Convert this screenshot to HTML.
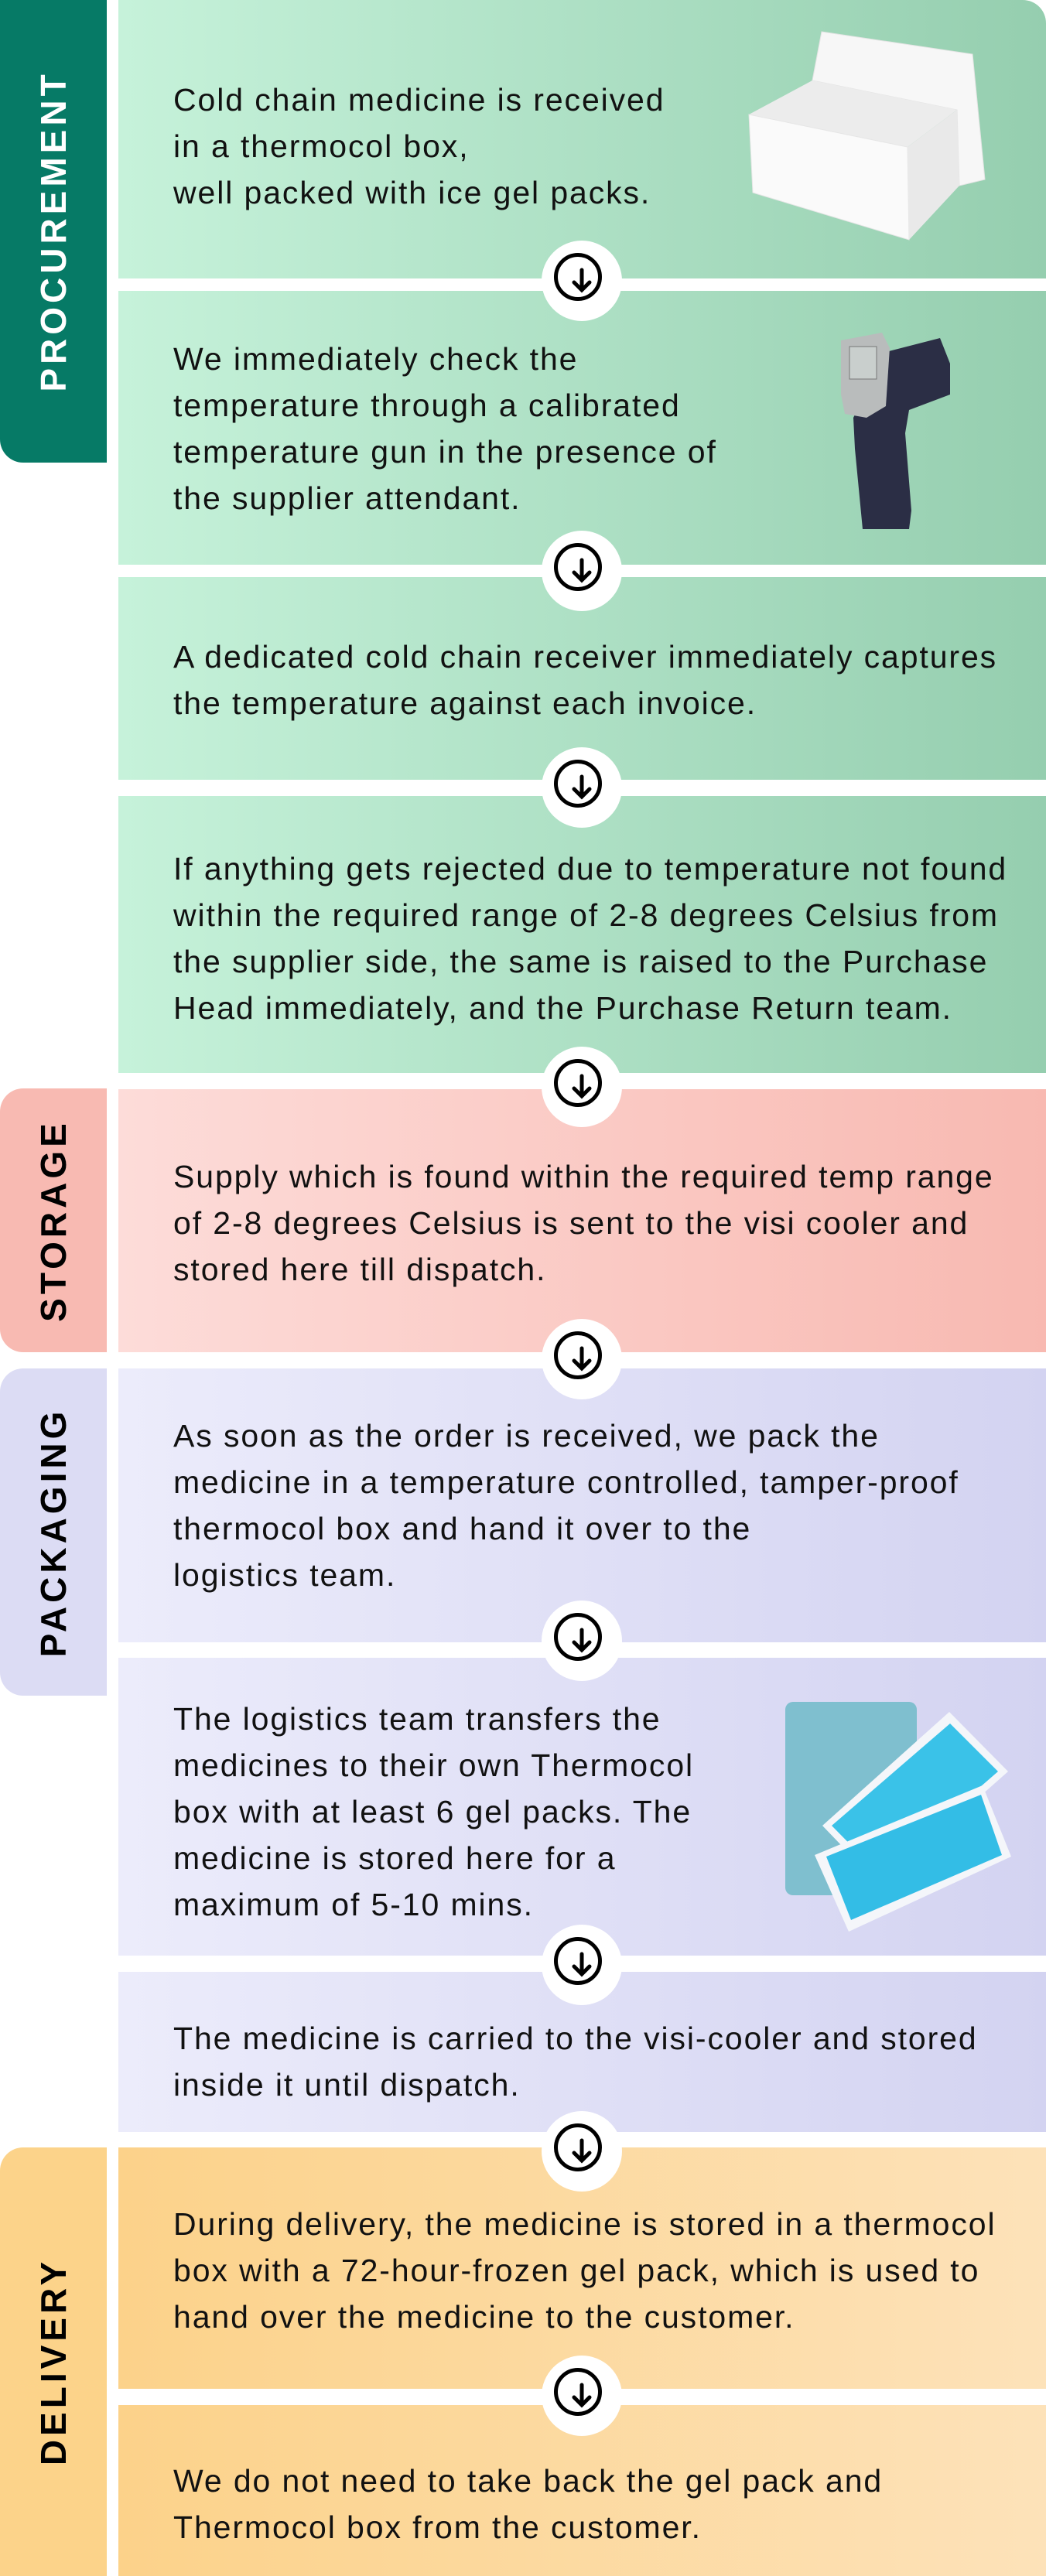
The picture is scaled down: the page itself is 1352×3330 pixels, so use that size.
<!DOCTYPE html>
<html><head><meta charset="utf-8"><style>
*{margin:0;padding:0;box-sizing:border-box}
body{width:1352px;height:3330px;position:relative;background:#fff;font-family:"Liberation Sans",sans-serif;overflow:hidden}
.p{position:absolute;left:153px;right:0}
.g{background:linear-gradient(90deg,#c6f2da,#95ceaf)}
.s{background:linear-gradient(90deg,#fddcd9,#f8b9b1)}
.k{background:linear-gradient(90deg,#ececfb,#d3d3f1)}
.d{background:linear-gradient(90deg,#fcd28a,#fde2b9)}
.l{position:absolute;left:0;width:138px;border-radius:30px 0 0 30px}
.lt{position:absolute;left:69px;top:50%;transform:translate(-50%,-50%) rotate(-90deg);font-weight:bold;font-size:46px;letter-spacing:5px;white-space:nowrap}
.t{position:absolute;left:224px;font-size:41px;letter-spacing:1.9px;line-height:60px;color:#111;white-space:nowrap}
.c{position:absolute;left:700px;width:104px;height:104px;margin-top:-52px;border-radius:50%;background:#fff}
.c::before{content:"";position:absolute;left:21px;top:21px;width:52px;height:52px;border:5px solid #000;border-radius:50%;box-sizing:content-box;margin:-5px}
.c svg{position:absolute;left:32px;top:32px}
</style></head><body>
<div class="p g" style="top:0;height:360px;border-top-right-radius:30px"></div>
<div class="p g" style="top:376px;height:354px"></div>
<div class="p g" style="top:746px;height:262px"></div>
<div class="p g" style="top:1029px;height:358px"></div>
<div class="p s" style="top:1408px;height:340px"></div>
<div class="p k" style="top:1769px;height:354px"></div>
<div class="p k" style="top:2143px;height:385px"></div>
<div class="p k" style="top:2549px;height:207px"></div>
<div class="p d" style="top:2776px;height:312px"></div>
<div class="p d" style="top:3109px;height:221px"></div>

<div class="l" style="top:0;height:598px;background:#067a66;border-top-left-radius:0"><div class="lt" style="color:#fff">PROCUREMENT</div></div>
<div class="l" style="top:1407px;height:341px;background:#f8bab2"><div class="lt">STORAGE</div></div>
<div class="l" style="top:1769px;height:423px;background:#dcdcf4"><div class="lt">PACKAGING</div></div>
<div class="l" style="top:2776px;height:554px;background:#fcd38a;border-bottom-left-radius:0"><div class="lt">DELIVERY</div></div>

<div class="t" style="top:99px">Cold chain medicine is received<br>in a thermocol box,<br>well packed with ice gel packs.</div>
<div class="t" style="top:434px">We immediately check the<br>temperature through a calibrated<br>temperature gun in the presence of<br>the supplier attendant.</div>
<div class="t" style="top:819px">A dedicated cold chain receiver immediately captures<br>the temperature against each invoice.</div>
<div class="t" style="top:1093px">If anything gets rejected due to temperature not found<br>within the required range of 2-8 degrees Celsius from<br>the supplier side, the same is raised to the Purchase<br>Head immediately, and the Purchase Return team.</div>
<div class="t" style="top:1491px">Supply which is found within the required temp range<br>of 2-8 degrees Celsius is sent to the visi cooler and<br>stored here till dispatch.</div>
<div class="t" style="top:1826px">As soon as the order is received, we pack the<br>medicine in a temperature controlled, tamper-proof<br>thermocol box and hand it over to the<br>logistics team.</div>
<div class="t" style="top:2192px">The logistics team transfers the<br>medicines to their own Thermocol<br>box with at least 6 gel packs. The<br>medicine is stored here for a<br>maximum of 5-10 mins.</div>
<div class="t" style="top:2605px">The medicine is carried to the visi-cooler and stored<br>inside it until dispatch.</div>
<div class="t" style="top:2845px">During delivery, the medicine is stored in a thermocol<br>box with a 72-hour-frozen gel pack, which is used to<br>hand over the medicine to the customer.</div>
<div class="t" style="top:3177px">We do not need to take back the gel pack and<br>Thermocol box from the customer.</div>

<svg style="position:absolute;left:0;top:0" width="1352" height="3330">
<polygon points="1062,41 1257,70 1273,232 1240,240 1237,142 1050,104" fill="#f7f7f7" stroke="#e4e4e4"/>
<polygon points="968,148 1050,104 1237,142 1173,190" fill="#ececec"/>
<polygon points="968,148 1173,190 1175,310 973,249" fill="#fafafa" stroke="#e6e6e6"/>
<polygon points="1173,190 1237,142 1240,240 1175,310" fill="#e9e9e9"/>
<path d="M1145,455 L1215,437 L1228,470 L1228,510 L1175,530 L1170,560 L1178,660 L1175,684 L1115,684 L1105,580 L1103,540 Z" fill="#2b2e45"/>
<path d="M1087,440 L1140,430 L1150,450 L1145,525 L1120,540 L1092,535 L1087,510 Z" fill="#b9bcbc"/>
<rect x="1098" y="448" width="35" height="42" fill="#c9cfcd" stroke="#777"/>
<rect x="1015" y="2200" width="170" height="250" rx="10" fill="#7fbfcf"/>
<polygon points="1063,2360 1227,2213 1303,2290 1137,2437" fill="#f4f6fa"/>
<polygon points="1075,2360 1228,2228 1290,2290 1137,2423" fill="#3ac2e8"/>
<polygon points="1053,2398 1270,2308 1307,2400 1097,2497" fill="#f4f6fa"/>
<polygon points="1068,2400 1268,2320 1295,2398 1100,2482" fill="#33bde6"/>
</svg>

<div class="c" style="top:363px"><svg width="40" height="40"><path d="M20 6 V32 M10 22 L20 32 L30 22" stroke="#000" stroke-width="5" fill="none" stroke-linecap="round"/></svg></div>
<div class="c" style="top:738px"><svg width="40" height="40"><path d="M20 6 V32 M10 22 L20 32 L30 22" stroke="#000" stroke-width="5" fill="none" stroke-linecap="round"/></svg></div>
<div class="c" style="top:1018px"><svg width="40" height="40"><path d="M20 6 V32 M10 22 L20 32 L30 22" stroke="#000" stroke-width="5" fill="none" stroke-linecap="round"/></svg></div>
<div class="c" style="top:1405px"><svg width="40" height="40"><path d="M20 6 V32 M10 22 L20 32 L30 22" stroke="#000" stroke-width="5" fill="none" stroke-linecap="round"/></svg></div>
<div class="c" style="top:1757px"><svg width="40" height="40"><path d="M20 6 V32 M10 22 L20 32 L30 22" stroke="#000" stroke-width="5" fill="none" stroke-linecap="round"/></svg></div>
<div class="c" style="top:2121px"><svg width="40" height="40"><path d="M20 6 V32 M10 22 L20 32 L30 22" stroke="#000" stroke-width="5" fill="none" stroke-linecap="round"/></svg></div>
<div class="c" style="top:2540px"><svg width="40" height="40"><path d="M20 6 V32 M10 22 L20 32 L30 22" stroke="#000" stroke-width="5" fill="none" stroke-linecap="round"/></svg></div>
<div class="c" style="top:2781px"><svg width="40" height="40"><path d="M20 6 V32 M10 22 L20 32 L30 22" stroke="#000" stroke-width="5" fill="none" stroke-linecap="round"/></svg></div>
<div class="c" style="top:3097px"><svg width="40" height="40"><path d="M20 6 V32 M10 22 L20 32 L30 22" stroke="#000" stroke-width="5" fill="none" stroke-linecap="round"/></svg></div>
</body></html>
